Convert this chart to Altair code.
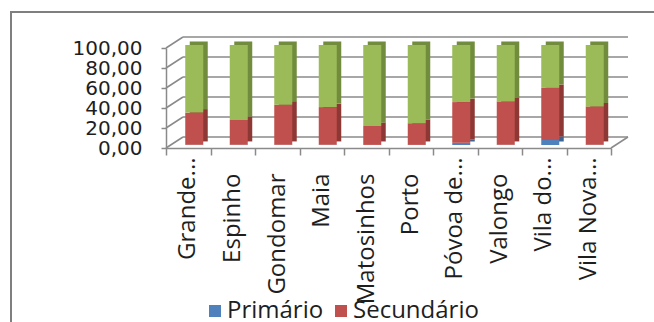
import altair as alt
import pandas as pd

# Employment share by sector (%) across the Grande Porto municipalities
municipios = ["Grande...", "Espinho", "Gondomar", "Maia", "Matosinhos",
              "Porto", "Póvoa de...", "Valongo", "Vila do...", "Vila Nova..."]
primario = [0.2, 0.2, 0.2, 0.2, 0.1, 0.1, 2.2, 0.2, 5.0, 0.2]
secundario = [32.2, 24.9, 40.1, 37.7, 19.0, 21.7, 40.7, 43.4, 52.1, 38.4]
terciario = [round(100 - p - s, 2) for p, s in zip(primario, secundario)]

setores = ["Primário", "Secundário", "Terciário"]
cores = ["#4F81BD", "#C0504D", "#9BBB59"]
cores_lado = ["#3A6494", "#8E3835", "#718C3C"]
marcas_y = [0, 20, 40, 60, 80, 100]

rows = []
for i, m in enumerate(municipios):
    for k, serie in enumerate([primario, secundario, terciario]):
        rows.append({"municipio": m, "setor": setores[k], "ordem": k, "valor": serie[i]})
df = pd.DataFrame(rows)
grelha = pd.DataFrame({"t": marcas_y})

W, H = 445, 100
DX, DY = 17, -11          # depth of the 3-D box
BX, BY = 6, -3            # bar front face offset inside the box
SX, SY = 4.5, -3.5        # bar side/top face depth
FONTE = "Open Sans"
CINZA = "#8A8A8A"
TEXTO = "#1E1E1E"
CORTADO = "indexof(datum.label, '...') >= 0"

escala_x = alt.Scale(paddingInner=0, paddingOuter=0)
y_scale = alt.Scale(domain=[0, 100], nice=False)

eixo_y = alt.Axis(title=None, values=marcas_y, grid=False, tickSize=5, tickColor=CINZA,
                  tickWidth=1.5, domainColor=CINZA, domainWidth=1.5, labelFont="DejaVu Sans",
                  labelFontSize=20, labelColor=TEXTO, labelPadding=19, labelOverlap=False,
                  labelFlush=False,
                  labelExpr="replace(format(datum.value, '.2f'), '.', ',')")

# full names on the front axis, shortened names drawn closer to the floor edge
eixo_x = alt.Axis(title=None, orient="bottom", labelAngle=-90, labelFont=FONTE, labelFontSize=24,
                  labelColor=TEXTO, tickBand="extent", tickSize=7, tickColor=CINZA,
                  tickWidth=1.5, domainColor=CINZA, domainWidth=1.5, labelPadding=18,
                  labelExpr=f"{CORTADO} ? '' : datum.label")
eixo_x_curto = alt.Axis(title=None, orient="bottom", labelAngle=-90, labelFont=FONTE,
                        labelFontSize=24, labelColor=TEXTO, ticks=False, domain=False,
                        labelPadding=9, labelExpr=f"{CORTADO} ? datum.label : ''")

moldura = alt.Chart(grelha).mark_rect(fill="transparent", stroke="#7F7F7F", strokeWidth=2).encode(
    x=alt.value(11 - 166), y=alt.value(12 - 48), x2=alt.value(900), y2=alt.value(600))

fundo = alt.Chart(grelha).mark_rule(color=CINZA, strokeWidth=1.5, xOffset=DX, x2Offset=DX,
                                    yOffset=DY).encode(
    y=alt.Y("t:Q", scale=y_scale, axis=eixo_y), x=alt.value(0), x2=alt.value(W))

lateral = alt.Chart(grelha).mark_rule(color=CINZA, strokeWidth=1.5, y2Offset=DY).encode(
    y=alt.Y("t:Q", scale=y_scale, axis=eixo_y), y2="t:Q", x=alt.value(0), x2=alt.value(DX))

chao = alt.Chart(grelha).transform_filter("datum.t == 0").mark_rule(
    color=CINZA, strokeWidth=1.5, y2Offset=DY).encode(
    y=alt.Y("t:Q", scale=y_scale, axis=eixo_y), y2="t:Q", x=alt.value(W), x2=alt.value(W + DX))

lados = alt.Chart(df).mark_bar(size=18, xOffset=BX + SX, x2Offset=BX + SX,
                               yOffset=BY + SY, y2Offset=BY + SY).encode(
    x=alt.X("municipio:N", sort=municipios, scale=escala_x, axis=eixo_x_curto),
    y=alt.Y("valor:Q", stack="zero", scale=y_scale, axis=eixo_y),
    color=alt.Color("setor:N", scale=alt.Scale(domain=setores, range=cores_lado), legend=None),
    order=alt.Order("ordem:Q"))

frentes = alt.Chart(df).mark_bar(size=18, xOffset=BX, x2Offset=BX,
                                 yOffset=BY, y2Offset=BY).encode(
    x=alt.X("municipio:N", sort=municipios, scale=escala_x, axis=eixo_x),
    y=alt.Y("valor:Q", stack="zero", scale=y_scale, axis=eixo_y),
    color=alt.Color("setor:N", scale=alt.Scale(domain=setores, range=cores),
                    legend=alt.Legend(title=None, orient="none", legendX=37, legendY=251,
                                      direction="horizontal", columns=2, symbolType="square",
                                      symbolSize=144, symbolStrokeWidth=0, labelFont=FONTE,
                                      labelFontSize=24, labelColor=TEXTO, labelOffset=0,
                                      columnPadding=4, rowPadding=14, padding=0)),
    order=alt.Order("ordem:Q"))

chart = alt.layer(moldura, fundo, lateral, chao, lados, frentes).resolve_scale(
    color="independent"
).resolve_axis(
    x="independent"
).properties(
    width=W, height=H,
    autosize=alt.AutoSizeParams(type="none"),
    padding={"left": 166, "top": 48, "right": 43, "bottom": 174},
    background="white",
).configure_view(stroke=None)

chart.save("out.html", embed_options={"renderer": "svg", "actions": False})
